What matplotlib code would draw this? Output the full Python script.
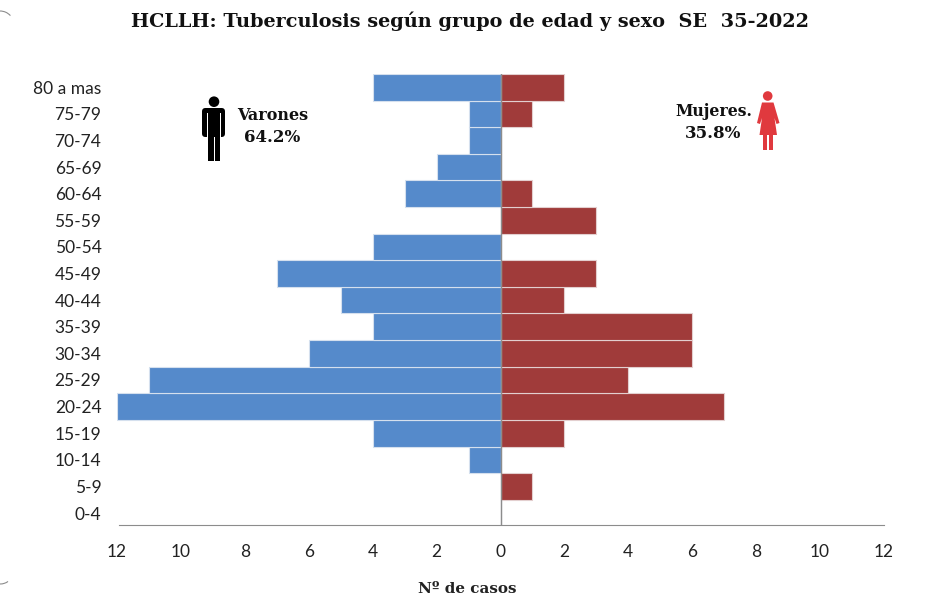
import matplotlib
matplotlib.use('Agg')
import matplotlib.pyplot as plt
from matplotlib.patches import Circle, Polygon, Rectangle, FancyBboxPatch, Arc

W, H = 943, 606

grupos = ['0-4', '5-9', '10-14', '15-19', '20-24', '25-29', '30-34', '35-39', '40-44',
          '45-49', '50-54', '55-59', '60-64', '65-69', '70-74', '75-79', '80 a mas']
varones = [0, 0, 1, 4, 12, 11, 6, 4, 5, 7, 4, 0, 3, 2, 1, 1, 4]
mujeres = [0, 1, 0, 2, 7, 4, 6, 6, 2, 3, 0, 3, 1, 0, 0, 1, 2]
ticks = [-12, -10, -8, -6, -4, -2, 0, 2, 4, 6, 8, 10, 12]

SANS = 'Lato'
SERIF = 'DejaVu Serif'

fig = plt.figure(figsize=(W / 100, H / 100), dpi=100, facecolor='white')

# ejes en pixeles de la imagen
x0, x1, y0, y1 = 117, 884, 74, 525
ax = fig.add_axes([x0 / W, 1 - y1 / H, (x1 - x0) / W, (y1 - y0) / H])
pos = range(len(grupos))
ax.barh(pos, [-v for v in varones], height=1.0, color='#558ACB', edgecolor='#D5E0EE', linewidth=0.8)
ax.barh(pos, mujeres, height=1.0, color='#A03B3A', edgecolor='#E3CFCF', linewidth=0.8)
ax.set_xlim(-12, 12)
ax.set_ylim(-0.45, 16.5)
ax.set_xticks(ticks)
ax.set_xticklabels([str(abs(t)) for t in ticks], fontsize=12.5, family=SANS, color='#222222')
ax.set_yticks(list(pos))
ax.set_yticklabels(grupos, fontsize=12.5, family=SANS, color='#222222')
ax.tick_params(length=0)
ax.tick_params(axis='x', pad=14)
ax.tick_params(axis='y', pad=11.2)
for s in ['top', 'left', 'right']:
    ax.spines[s].set_visible(False)
ax.spines['bottom'].set_color('#8C8C8C')
ax.spines['bottom'].set_bounds(-11.94, 12)
ax.axvline(0, color='#8C8C8C', lw=1, zorder=3)

# capa para textos e iconos, tambien en pixeles
ov = fig.add_axes([0, 0, 1, 1], facecolor='none')
ov.set_xlim(0, W)
ov.set_ylim(H, 0)
ov.axis('off')

ov.text(470, 21, 'HCLLH: Tuberculosis según grupo de edad y sexo  SE  35-2022', ha='center', va='center',
        family=SERIF, fontweight='bold', fontsize=13.9, color='#111111')
ov.text(467.5, 589, 'Nº de casos', ha='center', va='center', family=SERIF, fontweight='bold',
        fontsize=10.9, color='#222222')
ov.text(272.5, 116, 'Varones', ha='center', va='center', family=SERIF, fontweight='bold', fontsize=11.5, color='#111111')
ov.text(272, 138, '64.2%', ha='center', va='center', family=SERIF, fontweight='bold', fontsize=12, color='#111111')
ov.text(713.5, 111, 'Mujeres.', ha='center', va='center', family=SERIF, fontweight='bold', fontsize=11.3, color='#111111')
ov.text(713, 133, '35.8%', ha='center', va='center', family=SERIF, fontweight='bold', fontsize=12, color='#111111')

# figura de hombre
ov.add_patch(Circle((214, 101.7), 5.3, color='black', lw=0))
ov.add_patch(FancyBboxPatch((202, 108), 23, 29, boxstyle='round,pad=0,rounding_size=3.5', color='black', lw=0))
ov.add_patch(Rectangle((207.7, 130), 12.6, 31, color='black', lw=0))
ov.add_patch(Rectangle((213.5, 137), 1, 25, color='white', lw=0))
ov.add_patch(Rectangle((206.8, 113), 0.9, 25, color='white', lw=0))
ov.add_patch(Rectangle((220.3, 113), 0.9, 25, color='white', lw=0))

# figura de mujer
rojo = '#E0393E'
ov.add_patch(Circle((767.7, 96), 4.8, color=rojo, lw=0))
ov.add_patch(Polygon([(762, 102.5), (773.5, 102.5), (779.5, 123), (776.5, 124), (774.5, 118), (777, 135),
                      (759.5, 135), (762, 118), (760, 124), (757, 123)], color=rojo, lw=0))
ov.add_patch(Rectangle((763.2, 135), 4.1, 15, color=rojo, lw=0))
ov.add_patch(Rectangle((769, 135), 4.1, 15, color=rojo, lw=0))

# esquinas redondeadas del recuadro original
ov.add_patch(Arc((0, 25), 28, 28, theta1=270, theta2=318, color='#8C8C8C', lw=0.8))
ov.add_patch(Arc((0, 570), 28, 28, theta1=55, theta2=90, color='#8C8C8C', lw=0.8))

fig.savefig('out.png', dpi=100)
